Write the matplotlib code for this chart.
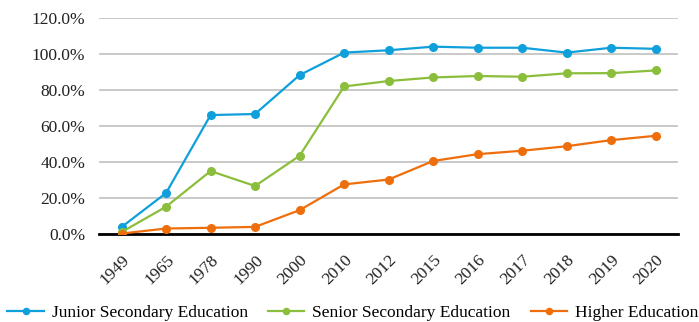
import matplotlib.pyplot as plt
from matplotlib.ticker import FuncFormatter

# Gross enrollment rates by year
years = ['1949', '1965', '1978', '1990', '2000', '2010', '2012',
         '2015', '2016', '2017', '2018', '2019', '2020']
junior = [3.9, 22.8, 66.1, 66.7, 88.3, 100.8, 102.1, 104.1, 103.5, 103.5, 100.8, 103.5, 102.9]
senior = [1.1, 15.2, 35.0, 26.7, 43.5, 82.0, 85.0, 87.0, 87.8, 87.4, 89.3, 89.4, 90.9]
higher = [0.3, 3.1, 3.5, 4.0, 13.3, 27.6, 30.3, 40.6, 44.4, 46.3, 48.8, 52.2, 54.6]

plt.rcParams['font.family'] = ['Liberation Serif', 'DejaVu Serif']

fig = plt.figure(figsize=(6.99, 3.22), dpi=100)
ax = fig.add_axes([0.142, 0.273, 0.828, 0.671])

x = list(range(len(years)))
series = [(junior, '#0FA0DC', 'Junior Secondary Education'),
          (senior, '#8BBE3C', 'Senior Secondary Education'),
          (higher, '#EE6E0C', 'Higher Education')]
for vals, col, name in series:
    ax.plot(x, vals, color=col, marker='o', markersize=5.5, linewidth=1.6,
            label=name, zorder=3)

ax.set_xlim(-0.5, len(years) - 0.5)
ax.set_ylim(0, 120)
ax.set_yticks([0, 20, 40, 60, 80, 100, 120])
ax.yaxis.set_major_formatter(FuncFormatter(lambda v, p: '{:.1f}%'.format(v)))
ax.set_xticks(x)
ax.set_xticklabels(years, rotation=45, ha='right', va='top', rotation_mode='anchor')

ax.grid(axis='y', color='#C0C0C0', linewidth=1.2, zorder=0)
ax.set_axisbelow(True)
for side in ['top', 'right', 'left']:
    ax.spines[side].set_visible(False)
ax.spines['bottom'].set_color('black')
ax.spines['bottom'].set_linewidth(2)
ax.spines['bottom'].set_zorder(2)
ax.tick_params(axis='both', length=0, labelsize=12.5, colors='#222222')
ax.tick_params(axis='y', pad=10)
ax.tick_params(axis='x', pad=13)

leg = fig.legend(loc='center', bbox_to_anchor=(0.505, 0.028), ncol=3, frameon=False,
                 fontsize=12.5, handlelength=2.1, handletextpad=0.46, columnspacing=1.15,
                 markerscale=0.8)

plt.savefig('out.png', dpi=100)
